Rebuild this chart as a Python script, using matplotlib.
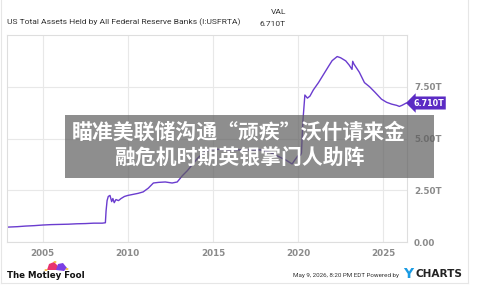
import matplotlib
matplotlib.use("Agg")
import matplotlib.pyplot as plt
from matplotlib.patches import Rectangle, Polygon, Circle
from matplotlib.lines import Line2D

# Fed total assets, trillions USD
years = [2002.96, 2003.5, 2004.0, 2004.5, 2005.0, 2005.5, 2006.0, 2006.5, 2007.0,
         2007.5, 2008.0, 2008.5, 2008.68, 2008.72, 2008.78, 2008.85, 2008.95, 2009.05,
         2009.12, 2009.2, 2009.3, 2009.45, 2009.6, 2009.8, 2010.0, 2010.3, 2010.6,
         2010.9, 2011.2, 2011.5, 2011.8, 2012.2, 2012.6, 2012.9, 2013.2, 2013.5,
         2013.8, 2014.1, 2014.5, 2014.8, 2015.2, 2016.0, 2017.0, 2017.8, 2018.3,
         2018.8, 2019.3, 2019.65, 2019.8, 2020.0, 2020.15, 2020.2, 2020.28, 2020.4,
         2020.55, 2020.7, 2020.9, 2021.2, 2021.5, 2021.8, 2022.0, 2022.3, 2022.5,
         2022.8, 2023.0, 2023.17, 2023.21, 2023.28, 2023.4, 2023.6, 2023.9, 2024.2,
         2024.5, 2024.9, 2025.2, 2025.5, 2025.8, 2025.95, 2026.1, 2026.35]
assets = [0.72, 0.74, 0.77, 0.79, 0.82, 0.84, 0.85, 0.86, 0.88,
          0.89, 0.91, 0.91, 0.93, 1.5, 2.0, 2.2, 2.25, 1.95,
          2.1, 1.9, 2.05, 2.0, 2.1, 2.2, 2.25, 2.3, 2.35,
          2.42, 2.6, 2.85, 2.88, 2.9, 2.85, 2.9, 3.2, 3.45,
          3.75, 4.05, 4.35, 4.45, 4.48, 4.45, 4.45, 4.45, 4.35,
          4.15, 3.95, 3.77, 3.95, 4.17, 4.2, 4.3, 5.8, 7.1,
          6.95, 7.05, 7.35, 7.7, 8.1, 8.5, 8.76, 8.96, 8.9,
          8.75, 8.55, 8.34, 8.73, 8.6, 8.45, 8.2, 7.7, 7.5,
          7.25, 6.9, 6.75, 6.66, 6.6, 6.55, 6.6, 6.71]
x_ticks = [2005, 2010, 2015, 2020, 2025]
y_ticks = [0, 2.5, 5, 7.5]
y_labels = ["0.00", "2.50T", "5.00T", "7.50T"]
title = "US Total Assets Held by All Federal Reserve Banks (I:USFRTA)"
last_val = "6.710T"
stamp = "May 9, 2026, 8:20 PM EDT Powered by"
overlay = "瞄准美联储沟通“顽疾”沃什请来金\n融危机时期英银掌门人助阵"

W, H = 500, 293
fig = plt.figure(figsize=(5, 2.93), dpi=100)
fx = lambda px: px / W
fy = lambda py: 1 - py / H


def fit_width(txt, width_px):
    # shrink a text until it spans the same width as in the reference
    r = fig.canvas.get_renderer()
    w = txt.get_window_extent(r).width
    txt.set_fontsize(txt.get_fontsize() * width_px / w)


ax = fig.add_axes([fx(7), fy(242), fx(407) - fx(7), fy(35) - fy(242)])
line_c = "#6a3ccf"
ax.plot(years, assets, color=line_c, lw=1.0, solid_joinstyle="round")
ax.set_xlim(2002.9, 2026.4)
ax.set_ylim(0, 10)
ax.set_xticks(x_ticks)
ax.set_yticks(y_ticks)
ax.set_yticklabels(y_labels)
ax.yaxis.tick_right()
ax.grid(True, color="#e8e8e8", lw=0.8)
ax.tick_params(length=0, labelsize=6.3, labelcolor="#8a8a8a", pad=5)
for lab in ax.get_xticklabels() + ax.get_yticklabels():
    lab.set_fontweight("bold")
for s in ax.spines.values():
    s.set_color("#dedede")
    s.set_linewidth(0.8)

# last value tag
ax.annotate(last_val, xy=(years[-1], assets[-1]), xytext=(fx(413), fy(103)),
            textcoords="figure fraction", va="center", ha="left",
            fontsize=5.8, color="white", fontweight="bold",
            bbox=dict(boxstyle="larrow,pad=0.25", fc="#5b2bc4", ec="none"),
            annotation_clip=False)

# header
t = fig.text(fx(7), fy(22), title, fontsize=7, color="#333333", va="center",
             ha="left", family="Roboto")
fit_width(t, 234)
fig.text(fx(286), fy(12), "VAL", fontsize=6, color="#333333", va="center", ha="right",
         family="Roboto")
fig.text(fx(286), fy(24), last_val, fontsize=6, color="#333333", va="center", ha="right",
         family="Roboto")

# card frame
for (x0, y0, x1, y1) in [(1, 0, 1, 283), (468, 0, 468, 283), (1, 283, 468, 283)]:
    fig.add_artist(Line2D([fx(x0), fx(x1)], [fy(y0), fy(y1)], color="#e6e6e6", lw=0.8))

# footer
fig.text(fx(7), fy(275), "The Motley Fool", fontsize=6.2, color="#111111",
         fontweight="bold", va="center", ha="left")
fig.add_artist(Polygon([(fx(47), fy(270)), (fx(49), fy(264)), (fx(54), fy(262)),
                        (fx(58), fy(266)), (fx(57), fy(270))],
                       closed=True, fc="#e8336e", ec="none", transform=fig.transFigure))
fig.add_artist(Polygon([(fx(56), fy(270)), (fx(58), fy(264)), (fx(63), fy(263)),
                        (fx(67), fy(268)), (fx(64), fy(271))],
                       closed=True, fc="#7b3fe4", ec="none", transform=fig.transFigure))
for (cx, cy) in [(46, 270), (67, 269), (55, 262)]:
    fig.add_artist(Circle((fx(cx), fy(cy)), 0.003, fc="#f5b82e", ec="none",
                          transform=fig.transFigure))
s = fig.text(fx(399), fy(275), stamp, fontsize=6, color="#333333", va="center",
             ha="right", family="Roboto")
fit_width(s, 107)
fig.text(fx(403), fy(274), "Y", fontsize=10, color="#1a9be3", fontweight="bold",
         va="center", ha="left")
c = fig.text(fx(416), fy(274), "CHARTS", fontsize=9, color="#222222", fontweight="bold",
             va="center", ha="left")
fit_width(c, 47)

# grey overlay with headline
fig.add_artist(Rectangle((fx(65), fy(178)), fx(434) - fx(65), fy(115) - fy(178),
                         fc="#5e5e5e", alpha=0.7, ec="none", transform=fig.transFigure))
fig.text(fx(239), fy(145), overlay, fontsize=15.0, color="white", fontweight="bold",
         family=["Noto Sans CJK SC", "DejaVu Sans"], ha="center", va="center",
         linespacing=1.3)

fig.savefig("out.png", dpi=100)
